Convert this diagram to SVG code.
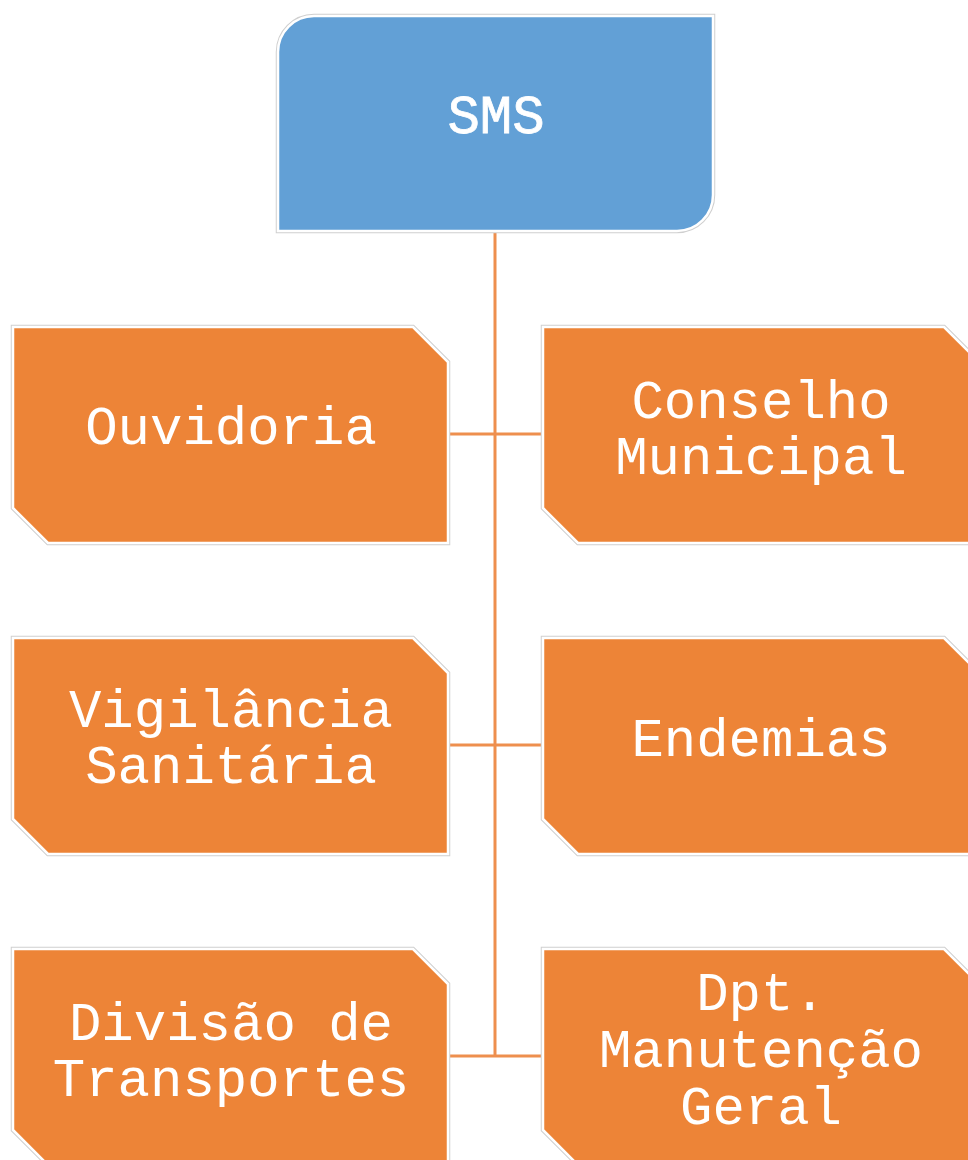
<svg xmlns="http://www.w3.org/2000/svg" width="968" height="1160" viewBox="0 0 968 1160">
<style>
.shadow{fill:none;stroke:#cfcfcf;stroke-width:4.5}
.blue{fill:#62A0D6;stroke:#ffffff;stroke-width:2.5}
.orange{fill:#ED8437;stroke:#ffffff;stroke-width:2.5}
.lbl{font-family:"Liberation Mono","Courier New",monospace;font-size:54px;fill:#ffffff;text-anchor:middle}
.conn{stroke:#EE8F4E;stroke-width:3;fill:none}
</style>
<rect width="968" height="1160" fill="#ffffff"/>
<g id="connectors">
<line class="conn" x1="495" y1="233" x2="495" y2="1056"/>
<line class="conn" x1="450" y1="434" x2="543" y2="434"/>
<line class="conn" x1="450" y1="745" x2="543" y2="745"/>
<line class="conn" x1="450" y1="1056" x2="543" y2="1056"/>
</g>
<g id="sms">
<path class="shadow" d="M314 16H713V195A36 36 0 0 1 677 231H278V52A36 36 0 0 1 314 16Z"/>
<path class="blue" d="M314 16H713V195A36 36 0 0 1 677 231H278V52A36 36 0 0 1 314 16Z"/>
<text class="lbl" x="496" y="133" stroke="#ffffff" stroke-width="0.8">SMS</text>
</g>
<g id="ouvidoria">
<path class="shadow" d="M13 327H413L448 362V543H48L13 508Z"/>
<path class="orange" d="M13 327H413L448 362V543H48L13 508Z"/>
<text class="lbl" x="231" y="444">Ouvidoria</text>
</g>
<g id="conselho">
<path class="shadow" d="M543 327H944L979 362V543H578L543 508Z"/>
<path class="orange" d="M543 327H944L979 362V543H578L543 508Z"/>
<text class="lbl" x="761" y="418">Conselho</text>
<text class="lbl" x="761" y="474">Municipal</text>
</g>
<g id="vigilancia">
<path class="shadow" d="M13 638H413L448 673V854H48L13 819Z"/>
<path class="orange" d="M13 638H413L448 673V854H48L13 819Z"/>
<text class="lbl" x="231" y="727">Vigilância</text>
<text class="lbl" x="231" y="783">Sanitária</text>
</g>
<g id="endemias">
<path class="shadow" d="M543 638H944L979 673V854H578L543 819Z"/>
<path class="orange" d="M543 638H944L979 673V854H578L543 819Z"/>
<text class="lbl" x="761" y="756">Endemias</text>
</g>
<g id="divisao">
<path class="shadow" d="M13 949H413L448 984V1165H48L13 1130Z"/>
<path class="orange" d="M13 949H413L448 984V1165H48L13 1130Z"/>
<text class="lbl" x="231" y="1040">Divisão de</text>
<text class="lbl" x="231" y="1096">Transportes</text>
</g>
<g id="dpt">
<path class="shadow" d="M543 949H944L979 984V1165H578L543 1130Z"/>
<path class="orange" d="M543 949H944L979 984V1165H578L543 1130Z"/>
<text class="lbl" x="761" y="1010">Dpt.</text>
<text class="lbl" x="761" y="1067">Manutenção</text>
<text class="lbl" x="761" y="1124">Geral</text>
</g>
</svg>
